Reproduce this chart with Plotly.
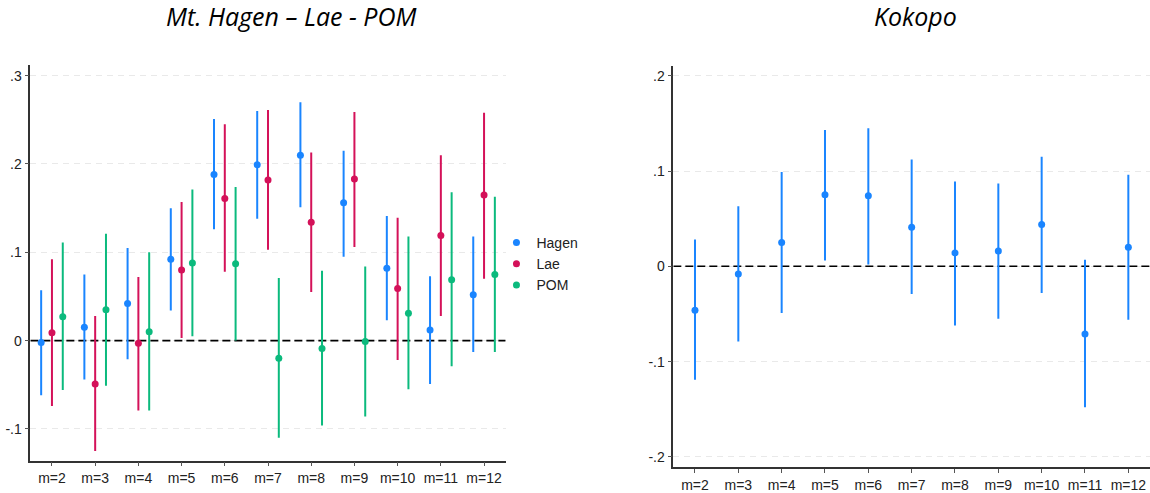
import plotly.graph_objects as go

# Month dummies on the x axis
months = ["m=2", "m=3", "m=4", "m=5", "m=6", "m=7", "m=8", "m=9", "m=10", "m=11", "m=12"]

# Mt. Hagen / Lae / POM: point estimates and 95% CI bounds
hagen_est = [-0.002, 0.015, 0.042, 0.092, 0.188, 0.199, 0.210, 0.156, 0.082, 0.012, 0.052]
hagen_lo = [-0.062, -0.044, -0.021, 0.034, 0.126, 0.138, 0.151, 0.095, 0.023, -0.049, -0.013]
hagen_hi = [0.057, 0.075, 0.105, 0.150, 0.251, 0.260, 0.270, 0.215, 0.141, 0.073, 0.118]

lae_est = [0.009, -0.049, -0.003, 0.080, 0.161, 0.182, 0.134, 0.183, 0.059, 0.119, 0.165]
lae_lo = [-0.074, -0.125, -0.079, 0.003, 0.078, 0.103, 0.055, 0.106, -0.022, 0.028, 0.070]
lae_hi = [0.092, 0.028, 0.072, 0.157, 0.245, 0.261, 0.213, 0.259, 0.139, 0.210, 0.258]

pom_est = [0.027, 0.035, 0.010, 0.088, 0.087, -0.020, -0.009, -0.001, 0.031, 0.069, 0.075]
pom_lo = [-0.056, -0.051, -0.079, 0.005, 0.000, -0.110, -0.096, -0.086, -0.055, -0.029, -0.013]
pom_hi = [0.111, 0.121, 0.100, 0.171, 0.174, 0.071, 0.079, 0.084, 0.118, 0.168, 0.163]

# Kokopo: point estimates and 95% CI bounds
kok_est = [-0.046, -0.008, 0.025, 0.075, 0.074, 0.041, 0.014, 0.016, 0.044, -0.071, 0.020]
kok_lo = [-0.119, -0.079, -0.049, 0.006, 0.002, -0.029, -0.062, -0.055, -0.028, -0.148, -0.056]
kok_hi = [0.028, 0.063, 0.099, 0.143, 0.145, 0.112, 0.089, 0.087, 0.115, 0.007, 0.096]

left_ticks = [-0.1, 0, 0.1, 0.2, 0.3]
left_ticktext = ["-.1", "0", ".1", ".2", ".3"]
right_ticks = [-0.2, -0.1, 0, 0.1, 0.2]
right_ticktext = ["-.2", "-.1", "0", ".1", ".2"]

BLUE = "#1A85FF"
RED = "#D41159"
GREEN = "#0BBA7D"
NARROW = "Liberation Sans Narrow, Arial Narrow, Liberation Sans, sans-serif"
TICK_FONT = dict(family=NARROW, size=14, color="#222222")
X_RANGE = [-0.5, 10.5]

fig = go.Figure()

# Dashed reference line at zero in each panel (drawn first so it sits under the estimates)
for xa, ya in (("x", "y"), ("x2", "y2")):
    fig.add_trace(go.Scatter(
        x=X_RANGE, y=[0, 0], mode="lines", hoverinfo="skip", showlegend=False,
        line=dict(color="black", width=1.6, dash="8px,4px"), xaxis=xa, yaxis=ya,
    ))


def add_series(name, est, lo, hi, offset, color, xaxis, yaxis, showlegend):
    xs = [i + offset for i in range(len(months))]
    fig.add_trace(go.Scatter(
        x=xs, y=est, mode="markers", name=name,
        marker=dict(color=color, size=7),
        error_y=dict(type="data", symmetric=False,
                     array=[h - e for h, e in zip(hi, est)],
                     arrayminus=[e - l for e, l in zip(est, lo)],
                     color=color, thickness=2, width=0),
        xaxis=xaxis, yaxis=yaxis, showlegend=showlegend,
    ))


add_series("Hagen", hagen_est, hagen_lo, hagen_hi, -0.25, BLUE, "x", "y", True)
add_series("Lae", lae_est, lae_lo, lae_hi, 0.0, RED, "x", "y", True)
add_series("POM", pom_est, pom_lo, pom_hi, 0.25, GREEN, "x", "y", True)
add_series("Kokopo", kok_est, kok_lo, kok_hi, 0.0, BLUE, "x2", "y2", False)

xaxis_common = dict(
    range=X_RANGE, tickmode="array", tickvals=list(range(len(months))), ticktext=months,
    showgrid=False, zeroline=False, showline=True, linecolor="#333333", linewidth=1.5,
    ticks="outside", ticklen=4, tickcolor="#555555", tickfont=TICK_FONT,
)
yaxis_common = dict(
    tickmode="array", showgrid=True, gridcolor="#e9e9e9", griddash="6px,5px", gridwidth=1,
    zeroline=False, showline=True, linecolor="#333333", linewidth=1.5,
    ticks="outside", ticklen=4, tickcolor="#555555", tickfont=TICK_FONT,
)

fig.update_layout(
    width=1150, height=493,
    margin=dict(l=0, r=0, t=0, b=0),
    paper_bgcolor="white", plot_bgcolor="white",
    xaxis=dict(domain=[0.0264, 0.4397], anchor="y", **xaxis_common),
    yaxis=dict(domain=[0.0655, 0.868], anchor="x", range=[-0.136, 0.312],
               tickvals=left_ticks, ticktext=left_ticktext, **yaxis_common),
    xaxis2=dict(domain=[0.5855, 1.0], anchor="y2", **xaxis_common),
    yaxis2=dict(domain=[0.052, 0.8667], anchor="x2", range=[-0.211, 0.2105],
                tickvals=right_ticks, ticktext=right_ticktext, **yaxis_common),
    legend=dict(x=0.4317, y=0.4645, xanchor="left", yanchor="middle",
                font=dict(family=NARROW, size=14, color="#222222"),
                tracegroupgap=0, itemwidth=30, bgcolor="rgba(0,0,0,0)"),
    showlegend=True,
)

TITLE_FONT = dict(family="Open Sans, Lato, sans-serif", size=25, color="black")
fig.add_annotation(text="<i>Mt. Hagen – Lae - POM</i>", x=0.253, y=0.967, xref="paper", yref="paper",
                   xanchor="center", yanchor="middle", showarrow=False, font=TITLE_FONT)
fig.add_annotation(text="<i>Kokopo</i>", x=0.7965, y=0.967, xref="paper", yref="paper",
                   xanchor="center", yanchor="middle", showarrow=False, font=TITLE_FONT)

fig.write_html("out.html")
